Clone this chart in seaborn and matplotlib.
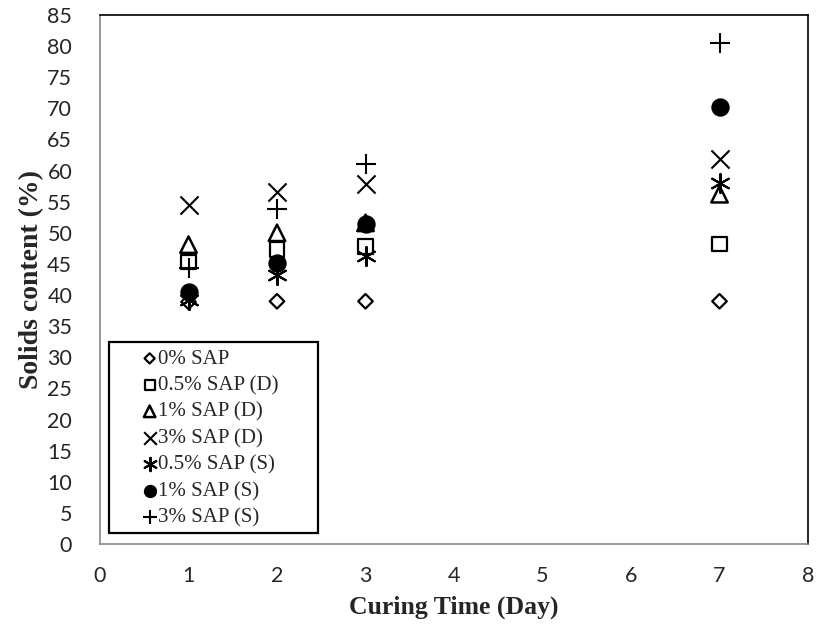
import matplotlib
matplotlib.use("Agg")
import matplotlib.pyplot as plt
from matplotlib.patches import Rectangle
import seaborn as sns
import pandas as pd

days = [1, 2, 3, 7]
series_names = ["0% SAP", "0.5% SAP (D)", "1% SAP (D)", "3% SAP (D)",
                "0.5% SAP (S)", "1% SAP (S)", "3% SAP (S)"]
sap0 = [38.9, 39.0, 39.0, 39.0]
sap05_d = [45.3, 47.3, 47.8, 48.2]
sap1_d = [48.1, 50.0, 51.6, 56.2]
sap3_d = [54.4, 56.5, 57.8, 61.9]
sap05_s = [39.2, 43.2, 46.2, 58.0]
sap1_s = [40.5, 45.2, 51.4, 70.2]
sap3_s = [44.3, 53.8, 61.0, 80.5]
values = [sap0, sap05_d, sap1_d, sap3_d, sap05_s, sap1_s, sap3_s]

x_ticks = list(range(0, 9))
y_ticks = list(range(0, 90, 5))

sns.set_theme(style="white")
plt.rcParams["font.family"] = ["Liberation Serif", "DejaVu Sans"]

W, H = 817, 625
L, R, T, B = 100, 808, 15, 544
fig = plt.figure(figsize=(W / 100, H / 100), dpi=100)
ax = fig.add_axes([L / W, 1 - B / H, (R - L) / W, (B - T) / H])

styles = [
    dict(marker="D", s=55, facecolor="none", edgecolor="black", linewidth=1.6),
    dict(marker="s", s=110, facecolor="none", edgecolor="black", linewidth=1.6),
    dict(marker="^", s=140, facecolor="none", edgecolor="black", linewidth=1.8),
    dict(marker="x", s=170, color="black", linewidth=1.5),
    dict(marker=(6, 2, 0), s=190, color="black", linewidth=1.5),
    dict(marker="o", s=150, color="black", edgecolor="black"),
    dict(marker="+", s=220, color="black", linewidth=1.5),
]

for name, vals, st in zip(series_names, values, styles):
    df = pd.DataFrame({"day": days, "val": vals})
    sns.scatterplot(data=df, x="day", y="val", ax=ax, label=name, **st)

ax.set_xlim(0, 8)
ax.set_ylim(0, 85)
ax.set_xticks(x_ticks)
ax.set_yticks(y_ticks)
ax.tick_params(axis="both", which="major", direction="out", length=6, width=1.2,
               color="#888888", labelsize=15.5)
ax.tick_params(axis="x", pad=10)
ax.tick_params(axis="y", pad=14)
for lab in ax.get_xticklabels() + ax.get_yticklabels():
    lab.set_fontfamily("Lato")
for sp in ax.spines.values():
    sp.set_color("black")
    sp.set_linewidth(1.2)
ax.spines["bottom"].set_color("#888888")
ax.spines["left"].set_color("#888888")

ax.set_xlabel("Curing Time (Day)", fontsize=18.5, fontweight="bold", labelpad=7)
ax.set_ylabel("Solids content (%)", fontsize=20, fontweight="bold", labelpad=2)

# legend frame (pixel box in the reference)
fx0, fy0, fx1, fy1 = 109, 342, 318, 533
ax.add_patch(Rectangle((fx0 / W, 1 - fy1 / H), (fx1 - fx0) / W, (fy1 - fy0) / H,
                       transform=fig.transFigure, fill=True, facecolor="white",
                       edgecolor="black", linewidth=1.6, zorder=4, clip_on=False))

leg = ax.legend(loc="upper left",
                bbox_to_anchor=((134 - L) / (R - L), (B - fy0) / (B - T)),
                frameon=False,
                prop={"family": "Liberation Serif", "size": 15},
                handletextpad=0.0, borderpad=0.35, labelspacing=0.33,
                handlelength=0.8, markerscale=0.7, borderaxespad=0)
leg.set_zorder(5)

fig.savefig("out.png", dpi=100)
